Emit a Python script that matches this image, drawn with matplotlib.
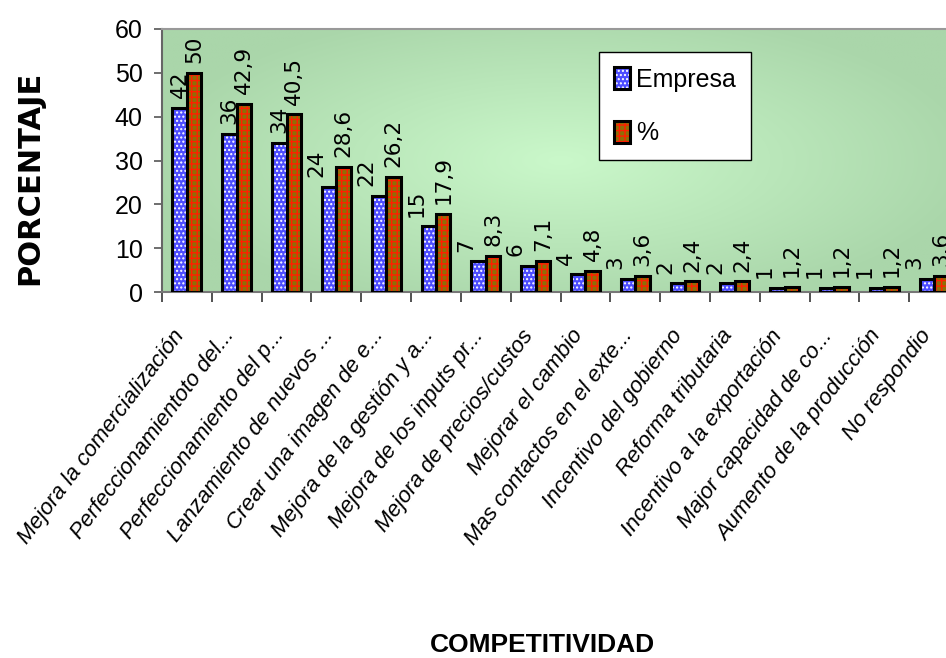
import numpy as np
import matplotlib.pyplot as plt
import matplotlib.transforms as mtransforms
from matplotlib import font_manager
from matplotlib.patches import Patch
from matplotlib.legend_handler import HandlerTuple

categorias = [
    "Mejora la comercialización",
    "Perfeccionamientoto del...",
    "Perfeccionamiento del p...",
    "Lanzamiento de nuevos ...",
    "Crear una imagen de e...",
    "Mejora de la gestión y a...",
    "Mejora de los inputs pr...",
    "Mejora de precios/custos",
    "Mejorar el cambio",
    "Mas contactos en el exte...",
    "Incentivo del gobierno",
    "Reforma tributaria",
    "Incentivo a la exportación",
    "Major capacidad de co...",
    "Aumento de la producción",
    "No respondio",
]
empresa = [42, 36, 34, 24, 22, 15, 7, 6, 4, 3, 2, 2, 1, 1, 1, 3]
porcentaje = [50, 42.9, 40.5, 28.6, 26.2, 17.9, 8.3, 7.1, 4.8, 3.6, 2.4, 2.4, 1.2, 1.2, 1.2, 3.6]
yticks = [0, 10, 20, 30, 40, 50, 60]

nombres = {f.name for f in font_manager.fontManager.ttflist}
arial = "Liberation Sans" if "Liberation Sans" in nombres else "DejaVu Sans"

plt.rcParams["font.family"] = arial
plt.rcParams["hatch.linewidth"] = 1.0


def fmt(v):
    # decimal comma, no trailing ",0"
    s = f"{v:g}"
    return s.replace(".", ",")


def plot_competitividad():
    fig = plt.figure(figsize=(9.46, 6.58), dpi=100)
    ax = fig.add_axes([162 / 946, 1 - 292 / 658, 797 / 946, 263 / 658])

    n = len(categorias)
    x = np.arange(n)
    w = 0.29

    ax.set_xlim(-0.5, n - 0.5)
    ax.set_ylim(0, 60)

    # green plot-area background, lighter towards the middle
    gx = np.linspace(-1, 1, 200)
    gy = np.linspace(-1, 1, 120)
    X, Y = np.meshgrid(gx, gy)
    r = np.clip(np.sqrt(X ** 2 * 0.9 + Y ** 2 * 0.7), 0, 1)
    centro = np.array([202, 248, 202]) / 255
    borde = np.array([170, 214, 170]) / 255
    img = centro[None, None, :] * (1 - r[..., None]) + borde[None, None, :] * r[..., None]
    ax.imshow(img, extent=(-0.5, n - 0.5, 0, 60), aspect="auto", zorder=0, interpolation="bilinear")

    azul = "#4c4cff"
    oliva = "#8f6e06"

    # fill + coloured hatch, then a black outline on top
    ax.bar(x - w / 2, empresa, w, color=azul, edgecolor="white", hatch="....", linewidth=0, zorder=2)
    ax.bar(x - w / 2, empresa, w, fill=False, edgecolor="black", linewidth=2.2, zorder=3)
    ax.bar(x + w / 2, porcentaje, w, color=oliva, edgecolor="#ff2000", hatch="+++", linewidth=0, zorder=2)
    ax.bar(x + w / 2, porcentaje, w, fill=False, edgecolor="black", linewidth=2.2, zorder=3)

    # value labels; the blue one steps aside when it would run into the orange one
    for xi, e, p in zip(x, empresa, porcentaje):
        largo = len(fmt(e)) * 12.5 / (263 / 60)
        dx = -9 if e + largo > p else 0
        ax.annotate(fmt(e), (xi - w / 2, e), xytext=(dx, 7), textcoords="offset points",
                    rotation=90, ha="center", va="bottom", fontsize=15.5, family="DejaVu Sans")
        ax.annotate(fmt(p), (xi + w / 2, p), xytext=(0, 7), textcoords="offset points",
                    rotation=90, ha="center", va="bottom", fontsize=15.5, family="DejaVu Sans")

    ax.set_yticks(yticks)
    ax.tick_params(axis="y", labelsize=18, length=6, width=1.2, color="#555555", pad=8)

    ax.set_xticks(np.arange(-0.5, n), minor=True)
    ax.set_xticks(x)
    ax.set_xticklabels(categorias, rotation=53, ha="right", va="top", rotation_mode="anchor",
                       fontsize=16, style="italic")
    ax.tick_params(axis="x", which="major", length=0, pad=22)
    ax.tick_params(axis="x", which="minor", length=7, width=1.2, color="#333333")
    # nudge the slanted category labels a little to the left
    desplaza = mtransforms.ScaledTranslation(-15 / 100, -3 / 100, fig.dpi_scale_trans)
    for lab in ax.get_xticklabels():
        lab.set_transform(lab.get_transform() + desplaza)

    for lado in ["top", "right"]:
        ax.spines[lado].set_color("#999999")
        ax.spines[lado].set_linewidth(1.5)
    ax.spines["left"].set_color("#666666")
    ax.spines["left"].set_linewidth(1.5)
    ax.spines["bottom"].set_color("#777777")
    ax.spines["bottom"].set_linewidth(1.5)

    fig.text(30 / 946, 1 - 178 / 658, "PORCENTAJE", rotation=90, ha="center", va="center",
             fontsize=22, fontweight="bold", family="DejaVu Sans")
    fig.text(542 / 946, 1 - 645 / 658, "COMPETITIVIDAD", ha="center", va="center",
             fontsize=19, fontweight="bold")

    h1 = (Patch(facecolor=azul, edgecolor="white", hatch="....", linewidth=0),
          Patch(fill=False, edgecolor="black", linewidth=2.2))
    h2 = (Patch(facecolor=oliva, edgecolor="#ff2000", hatch="+++", linewidth=0),
          Patch(fill=False, edgecolor="black", linewidth=2.2))
    leg = ax.legend([h1, h2], ["Empresa", "%"], handler_map={tuple: HandlerTuple(ndivide=1, pad=0)},
                    loc="upper left", bbox_to_anchor=(599 / 946, 1 - 52 / 658),
                    bbox_transform=fig.transFigure, borderaxespad=0, fontsize=18,
                    fancybox=False, framealpha=1, edgecolor="black",
                    handlelength=0.65, handleheight=1.0, handletextpad=0.25,
                    labelspacing=1.15, borderpad=0.6)
    leg.get_frame().set_linewidth(1.0)

    fig.savefig("out.png", dpi=100)


def main():
    plot_competitividad()


if __name__ == "__main__":
    main()
